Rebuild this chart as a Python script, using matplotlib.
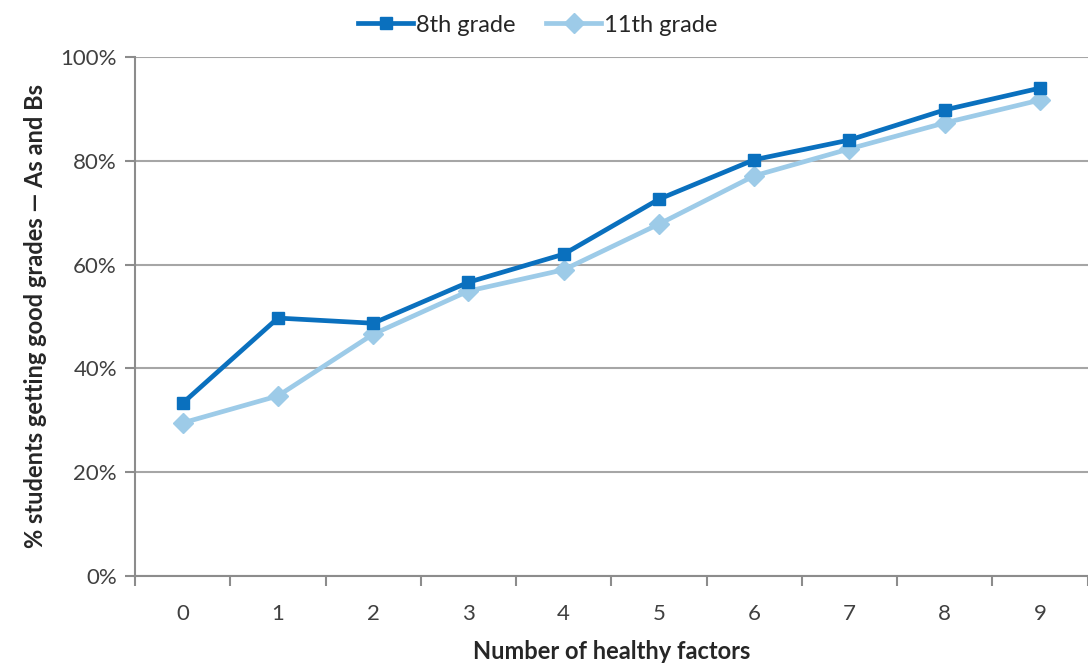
import matplotlib
matplotlib.use("Agg")
import matplotlib.pyplot as plt
from matplotlib.ticker import PercentFormatter

categories = ["0", "1", "2", "3", "4", "5", "6", "7", "8", "9"]
grade8 = [33.3, 49.7, 48.7, 56.6, 62.0, 72.6, 80.2, 84.0, 89.8, 94.0]
grade11 = [29.5, 34.7, 46.6, 54.9, 59.0, 67.8, 77.1, 82.3, 87.3, 91.7]
yticks = [0, 20, 40, 60, 80, 100]

plt.rcParams['font.family'] = ['Lato', 'DejaVu Sans']

fig = plt.figure(figsize=(10.88, 6.68), dpi=100)
ax = fig.add_axes([0.1241, 0.1377, 0.8755, 0.777])

x = list(range(len(categories)))
c8 = "#0A70BE"
c11 = "#9DCBE8"
ax.plot(x, grade11, color=c11, lw=3.4, marker="D", ms=10, label="11th grade", zorder=3)
ax.plot(x, grade8, color=c8, lw=3.4, marker="s", ms=9, label="8th grade", zorder=4)

ax.set_xlim(-0.5, len(categories) - 0.5)
ax.set_ylim(0, 100)
ax.set_yticks(yticks)
ax.yaxis.set_major_formatter(PercentFormatter(decimals=0))
ax.set_xticks(x)
ax.set_xticklabels(categories)
ax.set_xticks([i - 0.5 for i in range(len(categories) + 1)], minor=True)
ax.tick_params(axis="x", which="major", length=0, pad=20, labelsize=16, labelcolor="#404040")
ax.tick_params(axis="x", which="minor", length=7, width=1.5, color="#8c8c8c")
ax.tick_params(axis="y", length=7, width=1.5, color="#8c8c8c", labelsize=16, labelcolor="#404040", pad=6)

ax.grid(axis="y", color="#a6a6a6", lw=1.5)
ax.set_axisbelow(True)
for s in ["top", "right"]:
    ax.spines[s].set_visible(False)
for s in ["left", "bottom"]:
    ax.spines[s].set_color("#8c8c8c")
    ax.spines[s].set_linewidth(1.5)

ax.set_xlabel("Number of healthy factors", fontsize=17, fontweight="bold", color="#262626", labelpad=12)
ax.set_ylabel("% students getting good grades \u2014 As and Bs", fontsize=17, fontweight="bold", color="#262626", labelpad=10)

h, l = ax.get_legend_handles_labels()
fig.legend(h[::-1], l[::-1], loc="upper center", bbox_to_anchor=(0.494, 1.01), ncol=2, frameon=False,
           fontsize=17, handlelength=2.35, handletextpad=0.1, columnspacing=1.3, labelcolor="#262626")

fig.savefig("out.png", dpi=100)
